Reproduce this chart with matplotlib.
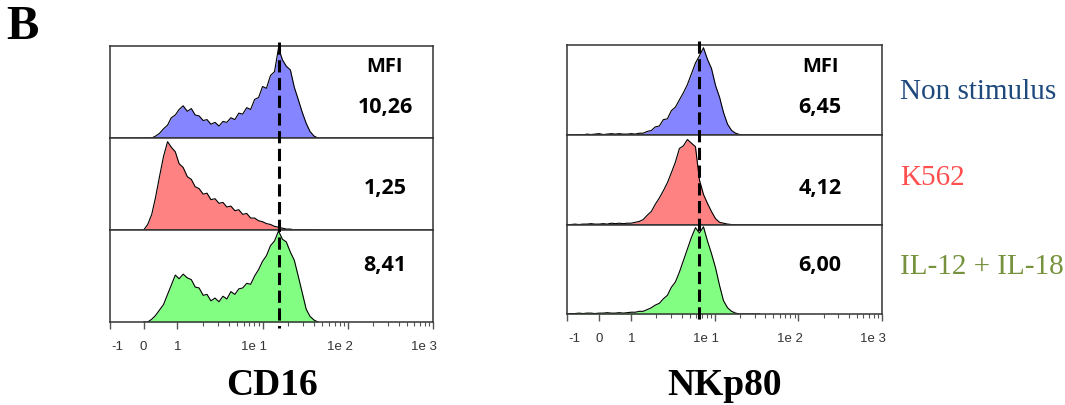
import matplotlib
matplotlib.use('Agg')
import matplotlib.pyplot as plt
import numpy as np
from matplotlib import transforms
from matplotlib.lines import Line2D
from matplotlib.ticker import NullLocator

W, H = 1065, 406

# ---- data (fluorescence channel values, % of max count) ----
conditions = ['Non stimulus', 'K562', 'IL-12 + IL-18']

cd16_x = [0.0, 0.12, 0.24, 0.35, 0.47, 0.59, 0.71, 0.82, 0.94, 1.05, 1.17, 1.31, 1.46, 1.62,
          1.80, 2.01, 2.23, 2.48, 2.77, 3.08, 3.43, 3.81, 4.25, 4.73, 5.26, 5.85, 6.52, 7.25,
          8.07, 8.99, 10.0, 11.1, 12.4, 13.8, 15.4, 17.1, 19.0, 21.2, 23.6, 26.2, 29.2, 32.5,
          36.1, 40.3, 44.8]
cd16_non = [0, 0, 0, 2, 5, 10, 14, 22, 25, 31, 35, 29, 32, 25, 24, 19, 20, 15, 17, 13, 18, 17,
            22, 20, 27, 26, 33, 31, 42, 44, 56, 54, 68, 72, 98, 85, 78, 74, 55, 42, 28, 16, 7, 2, 0]
cd16_k562 = [0, 6, 17, 35, 58, 80, 96, 90, 85, 72, 68, 58, 55, 47, 45, 39, 40, 33, 34, 29, 30, 25,
             26, 21, 22, 17, 18, 13, 13, 10, 9, 7, 6, 4, 3, 2, 1, 1, 0, 0, 0, 0, 0, 0, 0]
cd16_il = [0, 0, 3, 7, 13, 19, 30, 40, 51, 47, 52, 48, 46, 38, 37, 29, 30, 23, 26, 22, 28, 25,
           33, 30, 36, 37, 42, 41, 50, 57, 66, 72, 83, 88, 99, 90, 87, 76, 67, 50, 32, 14, 6, 2, 0]
cd16_mfi = ['10,26', '1,25', '8,41']
cd16_ref = 15.8

nkp80_x = [-1.0, -0.88, -0.75, -0.63, -0.5, -0.38, -0.25, -0.13, 0.0, 0.13, 0.25, 0.38, 0.5,
           0.63, 0.75, 0.88, 1.0, 1.12, 1.25, 1.39, 1.56, 1.74, 1.94, 2.17, 2.42, 2.71, 3.02,
           3.38, 3.77, 4.21, 4.70, 5.25, 5.87, 6.55, 7.32, 8.17, 9.12, 10.2, 11.4, 12.7, 14.2,
           15.9, 17.7, 19.8, 22.1, 24.7, 27.6, 30.8, 34.4]
nkp80_non = [0, 0, 0, 0.5, 0, 1, 0.5, 1, 1.5, 0.5, 1, 1.5, 1, 1.5, 1, 1, 1.5, 1, 2, 2, 4, 5, 9,
             10, 17, 18, 27, 31, 39, 47, 56, 68, 80, 88, 97, 84, 74, 55, 42, 25, 12, 5, 2, 0.5,
             0, 0, 0, 0, 0]
nkp80_k562 = [0, 0.5, 1, 0.5, 1, 1, 1.5, 1, 1, 1.5, 1, 2, 1.5, 2, 1.5, 2, 2, 3, 4, 6, 11, 15,
              23, 30, 38, 47, 58, 70, 85, 88, 95, 91, 87, 50, 34, 24, 15, 7, 3, 2, 1, 0.5, 0,
              0, 0, 0, 0, 0, 0]
nkp80_il = [0, 0.5, 0.5, 1, 0.5, 1, 1, 0.5, 1, 1, 1.5, 1, 1, 1.5, 1, 1.5, 2, 2, 3, 3, 5, 7, 10,
            12, 17, 21, 30, 36, 47, 60, 73, 86, 97, 91, 98, 82, 68, 52, 32, 15, 7, 3, 1, 0, 0,
            0, 0, 0, 0]
nkp80_mfi = ['6,45', '4,12', '6,00']
nkp80_ref = 6.4

tick_vals = [-1, 0, 1, 10, 100, 1000]
tick_labels = ['-1', '0', '1', '1e 1', '1e 2', '1e 3']
minor_vals = [2, 3, 4, 5, 6, 7, 8, 9, 20, 30, 40, 50, 60, 70, 80, 90,
              200, 300, 400, 500, 600, 700, 800, 900]

fills = ['#8585ff', '#ff8282', '#82ff82']
label_colors = ['#1f497d', '#ff4f4f', '#76923c']


def make_scale(k):
    def fwd(x):
        x = np.asarray(x, dtype=float)
        return np.where(x >= 1, np.log10(np.clip(x, 1, None)), (x - 1) * k)

    def inv(y):
        y = np.asarray(y, dtype=float)
        return np.where(y >= 0, 10 ** np.clip(y, 0, None), y / k + 1)
    return fwd, inv


fig = plt.figure(figsize=(W / 100, H / 100), dpi=100)


def draw_panel(x0, x1, tops, bot, xs, rows, mfi, k, ref, name, mfi_x):
    axes = []
    edges = list(tops) + [bot]
    for i in range(3):
        y_top, y_bot = edges[i], edges[i + 1]
        ax = fig.add_axes([x0 / W, 1 - y_bot / H, (x1 - x0) / W, (y_bot - y_top) / H])
        ax.set_xscale('function', functions=make_scale(k))
        ax.set_xlim(-1, 1000)
        ax.set_ylim(0, 100)
        ax.fill_between(xs, rows[i], color=fills[i], lw=0)
        ax.plot(xs, rows[i], color='black', lw=0.8)
        ax.set_yticks([])
        for s in ax.spines.values():
            s.set_color('#333333')
            s.set_linewidth(1.1)
        if i < 2:
            ax.set_xticks([])
            ax.xaxis.set_minor_locator(NullLocator())
        axes.append(ax)
    for txt, yc in zip(mfi, [107, 189, 266]):
        fig.text(mfi_x / W, 1 - yc / H, txt, ha='center', va='center',
                 fontsize=15.5, fontweight='bold', family='Open Sans')
    fig.text(mfi_x / W, 1 - 67 / H, 'MFI', ha='center', va='center',
             fontsize=14.5, fontweight='bold', family='Open Sans')

    ax = axes[-1]
    ax.set_xticks(tick_vals)
    ax.set_xticklabels(tick_labels, fontsize=9.5, family='Liberation Sans', color='#333333')
    ax.set_xticks(minor_vals, minor=True)
    ax.tick_params(axis='x', which='major', length=5, width=1, color='#555555', pad=8)
    ax.tick_params(axis='x', which='minor', length=3, width=0.8, color='#555555')
    for lbl, dx in zip(ax.get_xticklabels(), [7, 0, 0, -9, -8, -9]):
        lbl.set_transform(lbl.get_transform() +
                          transforms.ScaledTranslation(dx / 100, 0, fig.dpi_scale_trans))

    trans = transforms.blended_transform_factory(ax.transData, fig.transFigure)
    line = Line2D([ref, ref], [1 - (tops[0] - 4) / H, 1 - (bot + 6) / H], transform=trans,
                  color='black', lw=2.2, linestyle=(0, (4, 1.8)))
    fig.add_artist(line)

    fig.text((x0 + x1) / 2 / W, 1 - 386 / H, name, ha='center', va='center', fontsize=27,
             fontweight='bold', family='Liberation Serif')


draw_panel(110, 433, [47, 139, 231], 323, cd16_x, [cd16_non, cd16_k562, cd16_il],
           cd16_mfi, 0.395, cd16_ref, 'CD16', 385)
draw_panel(567, 882, [46, 136, 226], 315, nkp80_x, [nkp80_non, nkp80_k562, nkp80_il],
           nkp80_mfi, 0.384, nkp80_ref, 'NKp80', 820)

for name, col, yc in zip(conditions, label_colors, [92, 178, 267]):
    fig.text(900 / W, 1 - yc / H, name, ha='left', va='center', fontsize=21,
             color=col, family='Liberation Serif')

fig.text(22 / W, 1 - 27 / H, 'B', ha='center', va='center', fontsize=35,
         fontweight='bold', family='Liberation Serif')

fig.savefig('out.png', dpi=100)
